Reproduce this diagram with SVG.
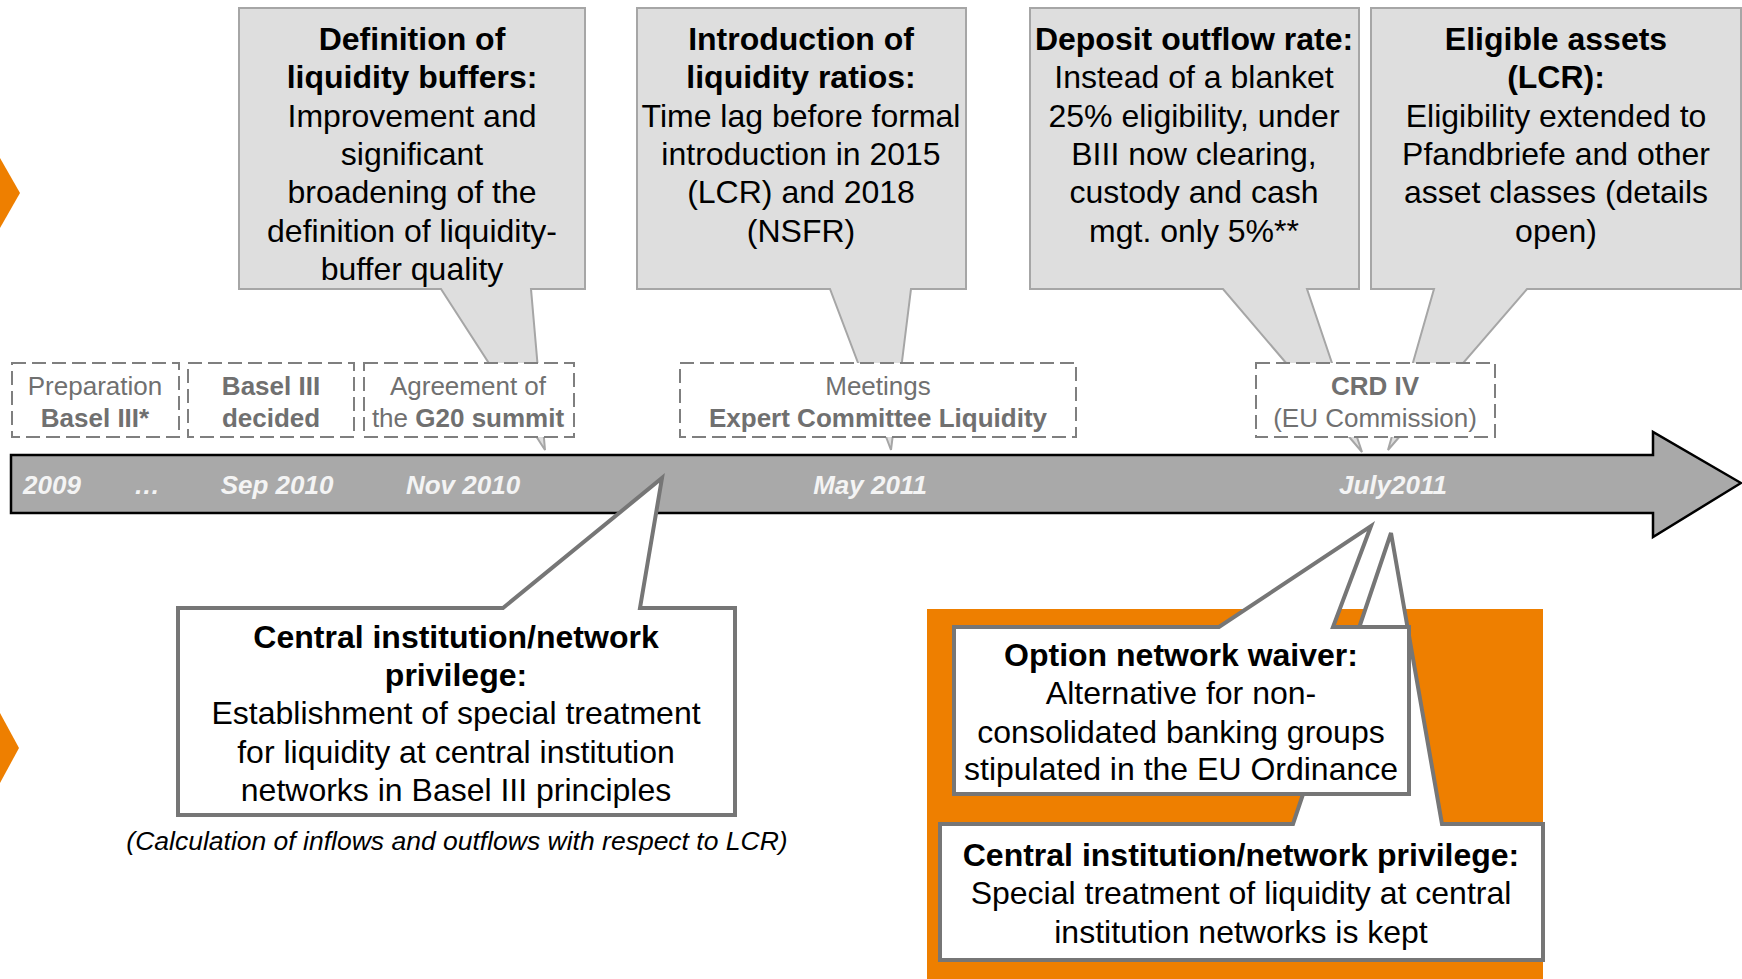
<svg xmlns="http://www.w3.org/2000/svg" width="1742" height="979" viewBox="0 0 1742 979">
<style>
text{font-family:"Liberation Sans",Arial,Helvetica,sans-serif;text-anchor:middle}
.top{fill:#dedede;stroke:#a6a6a6;stroke-width:2;stroke-linejoin:miter}
.tt{font-size:32px;fill:#000}
.b{font-weight:bold}
.dash{fill:#fff;stroke:#7f7f7f;stroke-width:2;stroke-dasharray:14 6}
.dt{font-size:26px;fill:#707070}
.bar{fill:#a9a9a9;stroke:#000;stroke-width:2.5}
.bl{font-size:26px;font-weight:bold;font-style:italic;fill:#f4f4f4}
.co{fill:#fff;stroke:#767676;stroke-width:4;stroke-linejoin:miter}
.ct{font-size:32px;fill:#000}
.or{fill:#ee7f00}
</style>
<g id="chevron-top"><polygon class="or" points="0,158 20,193 0,228"/></g>
<g id="chevron-bottom"><polygon class="or" points="0,713 19,748 0,783"/></g>

<g id="callout-buffers">
<path class="top" d="M239,8 H585 V289 H531 L545,450 L441,289 H239 Z"/>
<text class="tt"><tspan class="b" x="412" y="50">Definition of</tspan><tspan class="b" x="412" y="88.3">liquidity buffers:</tspan><tspan x="412" y="126.6">Improvement and</tspan><tspan x="412" y="164.9">significant</tspan><tspan x="412" y="203.2">broadening of the</tspan><tspan x="412" y="241.5">definition of liquidity-</tspan><tspan x="412" y="279.8">buffer quality</tspan></text>
</g>
<g id="callout-ratios">
<path class="top" d="M637,8 H966 V289 H911 L891,450 L830,289 H637 Z"/>
<text class="tt"><tspan class="b" x="801" y="50">Introduction of</tspan><tspan class="b" x="801" y="88.3">liquidity ratios:</tspan><tspan x="801" y="126.6">Time lag before formal</tspan><tspan x="801" y="164.9">introduction in 2015</tspan><tspan x="801" y="203.2">(LCR) and 2018</tspan><tspan x="801" y="241.5">(NSFR)</tspan></text>
</g>
<g id="callout-deposit">
<path class="top" d="M1030,8 H1359 V289 H1307 L1362,452 L1223,289 H1030 Z"/>
<text class="tt"><tspan class="b" x="1194" y="50">Deposit outflow rate:</tspan><tspan x="1194" y="88.3">Instead of a blanket</tspan><tspan x="1194" y="126.6">25% eligibility, under</tspan><tspan x="1194" y="164.9">BIII now clearing,</tspan><tspan x="1194" y="203.2">custody and cash</tspan><tspan x="1194" y="241.5">mgt. only 5%**</tspan></text>
</g>
<g id="callout-eligible">
<path class="top" d="M1371,8 H1741 V289 H1527 L1388,450 L1434,289 H1371 Z"/>
<text class="tt"><tspan class="b" x="1556" y="50">Eligible assets</tspan><tspan class="b" x="1556" y="88.3">(LCR):</tspan><tspan x="1556" y="126.6">Eligibility extended to</tspan><tspan x="1556" y="164.9">Pfandbriefe and other</tspan><tspan x="1556" y="203.2">asset classes (details</tspan><tspan x="1556" y="241.5">open)</tspan></text>
</g>

<g id="event-preparation">
<rect class="dash" x="12" y="363" width="167" height="74"/>
<text class="dt"><tspan x="95" y="395">Preparation</tspan><tspan class="b" x="95" y="427">Basel III*</tspan></text>
</g>
<g id="event-decided">
<rect class="dash" x="188" y="363" width="166" height="74"/>
<text class="dt b"><tspan x="271" y="395">Basel III</tspan><tspan x="271" y="427">decided</tspan></text>
</g>
<g id="event-g20">
<rect class="dash" x="364" y="363" width="210" height="74"/>
<text class="dt"><tspan x="468" y="395">Agreement of</tspan><tspan x="468" y="427">the <tspan class="b">G20 summit</tspan></tspan></text>
</g>
<g id="event-meetings">
<rect class="dash" x="680" y="363" width="396" height="74"/>
<text class="dt"><tspan x="878" y="395">Meetings</tspan><tspan class="b" x="878" y="427">Expert Committee Liquidity</tspan></text>
</g>
<g id="event-crd">
<rect class="dash" x="1256" y="363" width="239" height="74"/>
<text class="dt"><tspan class="b" x="1375" y="395">CRD IV</tspan><tspan x="1375" y="427">(EU Commission)</tspan></text>
</g>

<g id="timeline">
<path class="bar" d="M11,455 H1653 V432 L1741,483 L1653,537 V513 H11 Z"/>
<text class="bl" x="52" y="494">2009</text>
<text class="bl" x="147" y="494">…</text>
<text class="bl" x="277" y="494">Sep 2010</text>
<text class="bl" x="463" y="494">Nov 2010</text>
<text class="bl" x="870" y="494">May 2011</text>
<text class="bl" x="1393" y="494">July2011</text>
</g>

<g id="callout-basel-privilege">
<path class="co" d="M178,608 H503 L662,478 L640,608 H735 V815 H178 Z"/>
<text class="ct"><tspan class="b" x="456" y="648">Central institution/network</tspan><tspan class="b" x="456" y="686">privilege:</tspan><tspan x="456" y="724">Establishment of special treatment</tspan><tspan x="456" y="763">for liquidity at central institution</tspan><tspan x="456" y="801">networks in Basel III principles</tspan></text>
<text x="457" y="850" style="font-size:26.5px;font-style:italic;fill:#000">(Calculation of inflows and outflows with respect to LCR)</text>
</g>

<g id="highlight"><rect class="or" x="927" y="609" width="616" height="370"/></g>

<g id="callout-eu-privilege">
<path class="co" d="M940,824 H1293 L1391,533 L1442,824 H1543 V960 H940 Z"/>
<text class="ct"><tspan class="b" x="1241" y="866">Central institution/network privilege:</tspan><tspan x="1241" y="904">Special treatment of liquidity at central</tspan><tspan x="1241" y="943">institution networks is kept</tspan></text>
</g>
<g id="callout-waiver">
<path class="co" d="M954,627 H1219 L1371,526 L1333,627 H1409 V794 H954 Z"/>
<text class="ct"><tspan class="b" x="1181" y="666">Option network waiver:</tspan><tspan x="1181" y="704">Alternative for non-</tspan><tspan x="1181" y="743">consolidated banking groups</tspan><tspan x="1181" y="780">stipulated in the EU Ordinance</tspan></text>
</g>
<g id="connectors"></g>
</svg>
